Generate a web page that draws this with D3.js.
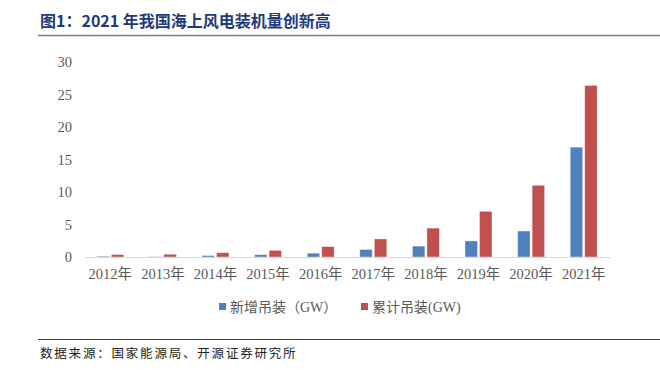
<!DOCTYPE html>
<html lang="zh">
<head>
<meta charset="UTF-8">
<title>2021年我国海上风电装机量创新高</title>
<script src="https://d3js.org/d3.v7.min.js"></script>
<style>
    body { margin: 0; background: #fff; }
    svg { display: block; }
    .tick text { font-family: "Liberation Serif", "Noto Sans CJK SC", serif; font-size: 14.5px; fill: #595959; }
    .legend text { font-family: "Liberation Serif", "Noto Sans CJK SC", serif; font-size: 14px; fill: #595959; }
</style>
</head>
<body>
<svg width="660" height="378"></svg>
<script>
    // data
    const years = ["2012年", "2013年", "2014年", "2015年", "2016年", "2017年", "2018年", "2019年", "2020年", "2021年"];
    const added = [0.13, 0.04, 0.23, 0.36, 0.59, 1.16, 1.68, 2.47, 4.0, 16.9];
    const total = [0.39, 0.43, 0.66, 1.03, 1.6, 2.78, 4.45, 7.03, 11.03, 26.4];
    const seriesNames = ["新增吊装（GW）", "累计吊装(GW)"];
    const colors = ["#4F81BD", "#C0504D"];
    const yTicks = [0, 5, 10, 15, 20, 25, 30];

    const width = 660, height = 378;
    const margin = { top: 62, right: 50, bottom: 121, left: 84 };
    const svg = d3.select("svg");

    const rows = years.map((y, i) => ({ year: y, values: [added[i], total[i]] }));

    // header
    svg.append("text")
        .attr("x", 40).attr("y", 27)
        .attr("font-family", "'Noto Sans CJK SC', serif")
        .attr("font-weight", "bold")
        .attr("font-size", 16)
        .attr("fill", "#1F3A7A")
        .text("图1：2021 年我国海上风电装机量创新高");

    svg.append("line")
        .attr("x1", 38).attr("x2", width).attr("y1", 35.5).attr("y2", 35.5)
        .attr("stroke", "#7F7F7F").attr("stroke-width", 1.5);

    const x = d3.scaleBand()
        .domain(years)
        .range([margin.left, width - margin.right]);

    const xInner = d3.scaleBand()
        .domain([0, 1])
        .range([0, 27])
        .paddingInner(0.14);

    const y = d3.scaleLinear()
        .domain([0, 30])
        .range([height - margin.bottom, margin.top]);

    // y axis labels
    const yAxis = svg.append("g")
        .attr("transform", `translate(${margin.left},0)`)
        .call(d3.axisLeft(y).tickValues(yTicks).tickSize(0).tickPadding(12));
    yAxis.select(".domain").remove();

    // bars
    const groups = svg.append("g").selectAll("g")
        .data(rows)
        .join("g")
        .attr("transform", d => `translate(${x(d.year) + x.bandwidth() / 2 - 13.5},0)`);

    groups.selectAll("rect")
        .data(d => d.values.map((v, k) => ({ k, v })))
        .join("rect")
        .attr("x", d => xInner(d.k))
        .attr("y", d => y(d.v))
        .attr("width", xInner.bandwidth())
        .attr("height", d => y(0) - y(d.v))
        .attr("fill", d => colors[d.k])
        .attr("stroke", "#ffffff")
        .attr("stroke-opacity", 0.5)
        .attr("stroke-width", 0.8);

    // x axis
    const xAxis = svg.append("g")
        .attr("transform", `translate(0,${y(0)})`)
        .call(d3.axisBottom(x).tickSize(0).tickPadding(12));
    xAxis.select(".domain").attr("stroke", "#D9D9D9").attr("stroke-width", 1);

    // legend
    const legendX = [219, 361];
    const legend = svg.append("g").attr("class", "legend");
    seriesNames.forEach((name, i) => {
        legend.append("rect")
            .attr("x", legendX[i]).attr("y", 303)
            .attr("width", 7).attr("height", 7)
            .attr("fill", colors[i]);
        legend.append("text")
            .attr("x", legendX[i] + 11).attr("y", 312)
            .text(name);
    });

    // footer
    svg.append("line")
        .attr("x1", 38).attr("x2", width).attr("y1", 339.5).attr("y2", 339.5)
        .attr("stroke", "#404040").attr("stroke-width", 1);

    svg.append("text")
        .attr("x", 40).attr("y", 358)
        .attr("font-family", "'Noto Sans CJK SC', serif")
        .attr("font-size", 12.5)
        .attr("letter-spacing", 1.8)
        .attr("fill", "#222")
        .text("数据来源：国家能源局、开源证券研究所");
</script>
</body>
</html>
